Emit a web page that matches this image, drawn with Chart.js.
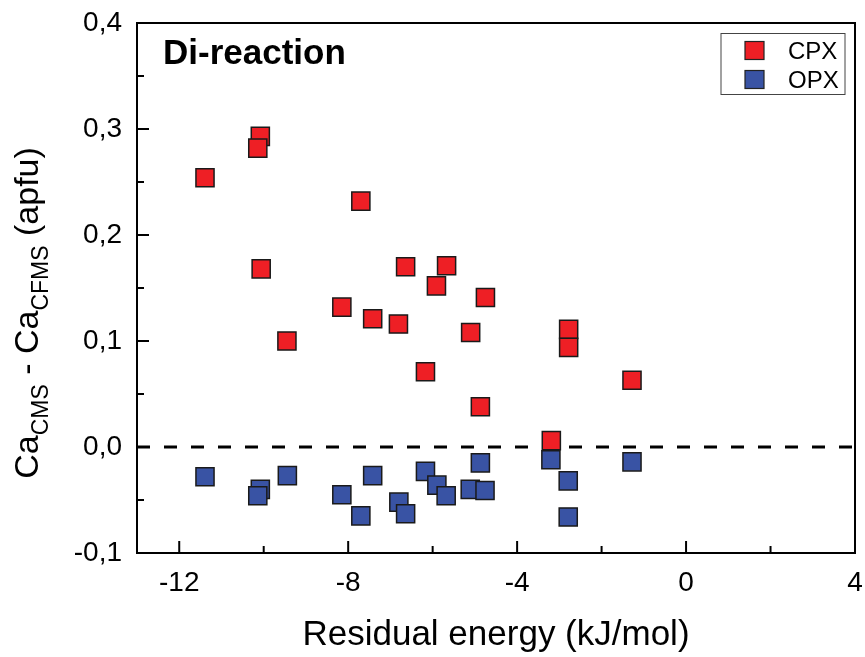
<!DOCTYPE html>
<html>
<head>
<meta charset="utf-8">
<script src="https://cdn.jsdelivr.net/npm/chart.js@4.4.1/dist/chart.umd.min.js"></script>
<style>
  html, body { margin: 0; padding: 0; background: #fff; }
</style>
</head>
<body>
<canvas id="chart" width="865" height="657"></canvas>
<script>
// data
const cpxX = [-11.39, -10.08, -10.14, -10.06, -9.45, -7.70, -8.15, -7.42, -6.81, -6.64,
              -5.67, -5.91, -6.17, -4.75, -5.10, -4.87, -2.78, -2.78, -1.28, -3.19];
const cpxY = [0.254, 0.293, 0.282, 0.168, 0.100, 0.232, 0.132, 0.121, 0.116, 0.170,
              0.171, 0.152, 0.071, 0.141, 0.108, 0.038, 0.111, 0.094, 0.063, 0.006];
const opxX = [-11.39, -10.08, -10.14, -9.44, -8.15, -7.70, -7.42, -6.80, -6.64, -6.17,
              -5.90, -5.68, -4.87, -5.11, -4.76, -3.20, -2.79, -2.79, -1.28];
const opxY = [-0.028, -0.040, -0.046, -0.027, -0.045, -0.065, -0.027, -0.052, -0.063, -0.023,
              -0.036, -0.046, -0.015, -0.040, -0.041, -0.012, -0.032, -0.066, -0.014];
const xTicks = [-12, -8, -4, 0, 4];
const xMinorTicks = [-10, -6, -2, 2];
const yTicks = [-0.1, 0, 0.1, 0.2, 0.3, 0.4];
const yMinorTicks = [-0.05, 0.05, 0.15, 0.25, 0.35];
const xRange = [-13, 4];
const yRange = [-0.1, 0.4];

const FONT = "'Liberation Sans', Arial, sans-serif";
const RED = '#ee1f25';
const BLUE = '#3953a4';

const toPoints = (xs, ys) => xs.map((x, i) => ({ x: x, y: ys[i] }));

// frame, inward ticks, y title, label and legend
const decor = {
    id: 'decor',
    afterDraw(chart) {
        const { ctx, chartArea: a, scales: { x, y } } = chart;
        ctx.save();
        ctx.strokeStyle = '#000';
        ctx.lineWidth = 2;
        ctx.strokeRect(a.left, a.top, a.right - a.left, a.bottom - a.top);

        const tick = (x1, y1, x2, y2) => {
            ctx.beginPath(); ctx.moveTo(x1, y1); ctx.lineTo(x2, y2); ctx.stroke();
        };
        xTicks.forEach(v => { const p = x.getPixelForValue(v); tick(p, a.bottom, p, a.bottom - 12); });
        xMinorTicks.forEach(v => { const p = x.getPixelForValue(v); tick(p, a.bottom, p, a.bottom - 7); });
        yTicks.forEach(v => { const p = y.getPixelForValue(v); tick(a.left, p, a.left + 12, p); });
        yMinorTicks.forEach(v => { const p = y.getPixelForValue(v); tick(a.left, p, a.left + 7, p); });

        // y axis title with subscripts
        const parts = [
            ['Ca', 34, 0], ['CMS', 23, 10], [' - Ca', 34, 0], ['CFMS', 23, 10], [' (apfu)', 34, 0]
        ];
        let total = 0;
        parts.forEach(p => { ctx.font = p[1] + 'px ' + FONT; total += ctx.measureText(p[0]).width; });
        ctx.translate(38, 313);
        ctx.rotate(-Math.PI / 2);
        ctx.fillStyle = '#000';
        ctx.textBaseline = 'alphabetic';
        let cx = -total / 2;
        parts.forEach(p => {
            ctx.font = p[1] + 'px ' + FONT;
            ctx.fillText(p[0], cx, p[2]);
            cx += ctx.measureText(p[0]).width;
        });
        ctx.setTransform(1, 0, 0, 1, 0, 0);

        // panel label
        ctx.font = 'bold 35px ' + FONT;
        ctx.fillText('Di-reaction', 163, 64);

        // legend box
        const lx = a.right - 134, ly = 33.5;
        ctx.lineWidth = 1;
        ctx.strokeStyle = '#444';
        ctx.strokeRect(lx, ly, 124, 61);
        [[RED, 'CPX', 0], [BLUE, 'OPX', 29]].forEach(([c, t, dy]) => {
            ctx.fillStyle = c;
            ctx.fillRect(lx + 24, ly + 8 + dy, 19, 18);
            ctx.strokeStyle = '#222';
            ctx.lineWidth = 1.2;
            ctx.strokeRect(lx + 24, ly + 8 + dy, 19, 18);
            ctx.fillStyle = '#000';
            ctx.font = '24px ' + FONT;
            ctx.fillText(t, lx + 67, ly + 25 + dy);
        });
        ctx.restore();
    }
};

new Chart(document.getElementById('chart'), {
    type: 'scatter',
    data: {
        datasets: [
            {
                type: 'line',
                data: [{ x: xRange[0], y: 0 }, { x: xRange[1], y: 0 }],
                borderColor: '#000',
                borderWidth: 3,
                borderDash: [13, 14],
                pointRadius: 0,
                order: 2
            },
            {
                label: 'CPX',
                data: toPoints(cpxX, cpxY),
                pointStyle: 'rect',
                pointRadius: 12.8,
                backgroundColor: RED,
                borderColor: '#1a1a1a',
                borderWidth: 1.5,
                order: 1
            },
            {
                label: 'OPX',
                data: toPoints(opxX, opxY),
                pointStyle: 'rect',
                pointRadius: 12.8,
                backgroundColor: BLUE,
                borderColor: '#1a1a1a',
                borderWidth: 1.5,
                order: 0
            }
        ]
    },
    options: {
        responsive: false,
        animation: false,
        events: [],
        layout: { autoPadding: false, padding: { top: 23, right: 10, left: 0, bottom: 0 } },
        plugins: { legend: { display: false }, tooltip: { enabled: false } },
        scales: {
            x: {
                type: 'linear',
                min: xRange[0],
                max: xRange[1],
                afterBuildTicks: s => { s.ticks = xTicks.map(v => ({ value: v })); },
                afterFit: s => { s.height = 104; s.paddingLeft = 0; s.paddingRight = 0; },
                grid: { display: false, drawTicks: false },
                border: { display: false },
                ticks: { color: '#000', padding: 13, font: { family: FONT, size: 28 } },
                title: {
                    display: true,
                    text: 'Residual energy (kJ/mol)',
                    color: '#000',
                    font: { family: FONT, size: 35 },
                    padding: { top: 0, bottom: 1 }
                }
            },
            y: {
                type: 'linear',
                min: yRange[0],
                max: yRange[1],
                afterBuildTicks: s => { s.ticks = yTicks.map(v => ({ value: v })); },
                afterFit: s => { s.width = 137; s.paddingTop = 0; s.paddingBottom = 0; },
                grid: { display: false, drawTicks: false },
                border: { display: false },
                ticks: {
                    color: '#000',
                    padding: 15,
                    font: { family: FONT, size: 28 },
                    callback: v => v.toFixed(1).replace('.', ',')
                }
            }
        }
    },
    plugins: [decor]
});
</script>
</body>
</html>
